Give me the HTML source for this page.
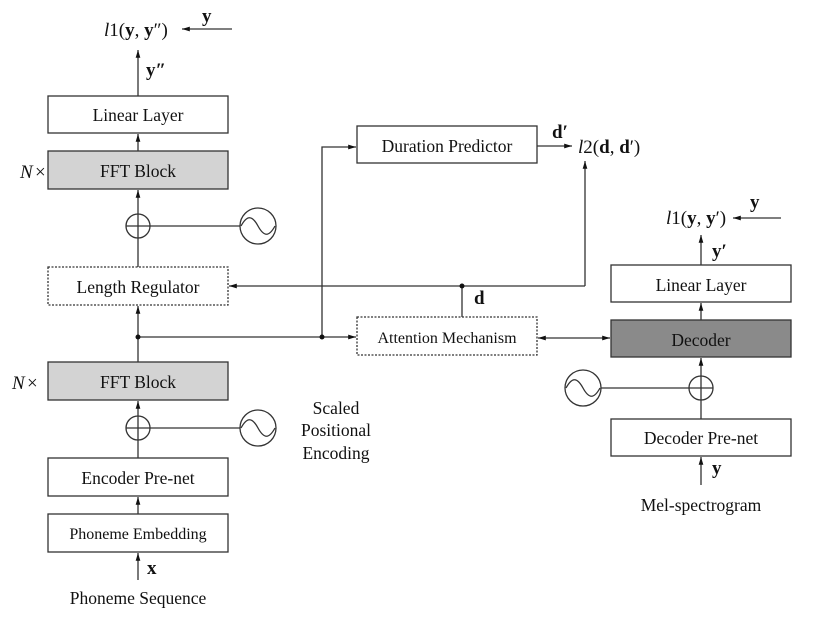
<!DOCTYPE html>
<html><head><style>
body{margin:0;background:#fff}
svg text{font-family:"Liberation Serif",serif;fill:#111}
</style></head><body>
<svg width="830" height="623" viewBox="0 0 830 623" xmlns="http://www.w3.org/2000/svg">
<defs>
<marker id="a" viewBox="0 0 10 10" refX="10" refY="5" markerWidth="6" markerHeight="6" orient="auto-start-reverse"><path d="M0,2 L10,5 L0,8z" fill="#111"/></marker>
</defs>
<g stroke="#333" stroke-width="1.3" fill="none">
<rect x="48" y="96" width="180" height="37" fill="#fff"/>
<rect x="48" y="151" width="180" height="38" fill="#d3d3d3"/>
<rect x="48" y="267" width="180" height="38" fill="#fff" stroke-dasharray="2,1.5"/>
<rect x="48" y="362" width="180" height="38" fill="#d3d3d3"/>
<rect x="48" y="458" width="180" height="38" fill="#fff"/>
<rect x="48" y="514" width="180" height="38" fill="#fff"/>
<rect x="357" y="126" width="180" height="37" fill="#fff"/>
<rect x="357" y="317" width="180" height="38" fill="#fff" stroke-dasharray="2,1.5"/>
<rect x="611" y="265" width="180" height="37" fill="#fff"/>
<rect x="611" y="320" width="180" height="37" fill="#8a8a8a"/>
<rect x="611" y="419" width="180" height="37" fill="#fff"/>
<line x1="138" y1="580" x2="138" y2="553" marker-end="url(#a)"/>
<line x1="138" y1="514" x2="138" y2="497" marker-end="url(#a)"/>
<line x1="138" y1="458" x2="138" y2="417" marker-end="url(#a)"/>
<line x1="138" y1="416" x2="138" y2="401" marker-end="url(#a)"/>
<line x1="138" y1="362" x2="138" y2="306" marker-end="url(#a)"/>
<line x1="138" y1="267" x2="138" y2="215" marker-end="url(#a)"/>
<line x1="138" y1="214" x2="138" y2="190" marker-end="url(#a)"/>
<line x1="138" y1="151" x2="138" y2="134" marker-end="url(#a)"/>
<line x1="138" y1="96" x2="138" y2="50" marker-end="url(#a)"/>
<line x1="232" y1="29" x2="182" y2="29" marker-end="url(#a)"/>
<circle cx="138" cy="226" r="12" fill="#fff"/>
<line x1="126" y1="226" x2="240" y2="226"/><line x1="138" y1="214" x2="138" y2="238"/>
<circle cx="258" cy="226" r="18" fill="#fff"/>
<path d="M241,226 C247,215 252,215 258,226 C264,237 269,237 275,226"/>
<circle cx="138" cy="428" r="12" fill="#fff"/>
<line x1="126" y1="428" x2="240" y2="428"/><line x1="138" y1="416" x2="138" y2="440"/>
<circle cx="258" cy="428" r="18" fill="#fff"/>
<path d="M241,428 C247,417 252,417 258,428 C264,439 269,439 275,428"/>
<line x1="138" y1="337" x2="356" y2="337" marker-end="url(#a)"/>
<polyline points="322,337 322,147 356,147" marker-end="url(#a)"/>
<line x1="462" y1="317" x2="462" y2="286"/>
<line x1="585" y1="286" x2="229" y2="286" marker-end="url(#a)"/>
<line x1="585" y1="286" x2="585" y2="161" marker-end="url(#a)"/>
<line x1="537" y1="146" x2="572" y2="146" marker-end="url(#a)"/>
<line x1="538" y1="338" x2="610" y2="338" marker-start="url(#a)" marker-end="url(#a)"/>
<line x1="701" y1="485" x2="701" y2="457" marker-end="url(#a)"/>
<line x1="701" y1="419" x2="701" y2="377" marker-end="url(#a)"/>
<line x1="701" y1="376" x2="701" y2="358" marker-end="url(#a)"/>
<line x1="701" y1="320" x2="701" y2="303" marker-end="url(#a)"/>
<line x1="701" y1="265" x2="701" y2="235" marker-end="url(#a)"/>
<line x1="781" y1="218" x2="733" y2="218" marker-end="url(#a)"/>
<circle cx="701" cy="388" r="12" fill="#fff"/>
<line x1="601" y1="388" x2="713" y2="388"/><line x1="701" y1="376" x2="701" y2="400"/>
<circle cx="583" cy="388" r="18" fill="#fff"/>
<path d="M566,388 C572,377 577,377 583,388 C589,399 594,399 600,388"/>
</g>
<g fill="#111">
<circle cx="138" cy="337" r="2.5"/><circle cx="322" cy="337" r="2.5"/><circle cx="462" cy="286" r="2.5"/>
</g>
<g font-size="17.5" text-anchor="middle">
<text x="138" y="121">Linear Layer</text>
<text x="138" y="177">FFT Block</text>
<text x="138" y="293">Length Regulator</text>
<text x="138" y="388">FFT Block</text>
<text x="138" y="484">Encoder Pre-net</text>
<text x="138" y="539" font-size="16">Phoneme Embedding</text>
<text x="138" y="604">Phoneme Sequence</text>
<text x="447" y="152">Duration Predictor</text>
<text x="447" y="343" font-size="16">Attention Mechanism</text>
<text x="701" y="291">Linear Layer</text>
<text x="701" y="346">Decoder</text>
<text x="701" y="444">Decoder Pre-net</text>
<text x="701" y="511">Mel-spectrogram</text>
<text x="336" y="414">Scaled</text>
<text x="336" y="436">Positional</text>
<text x="336" y="459">Encoding</text>
</g>
<g font-size="19">
<text x="20" y="178" font-style="italic">N</text><text x="35" y="178">×</text>
<text x="12" y="389" font-style="italic">N</text><text x="27" y="389">×</text>
<text x="104" y="36"><tspan font-style="italic">l</tspan>1(<tspan font-weight="bold">y</tspan>, <tspan font-weight="bold">y</tspan>″)</text>
<text x="202" y="22" font-weight="bold">y</text>
<text x="146" y="76" font-weight="bold">y″</text>
<text x="147" y="574" font-weight="bold">x</text>
<text x="552" y="138" font-weight="bold">d′</text>
<text x="578" y="153"><tspan font-style="italic">l</tspan>2(<tspan font-weight="bold">d</tspan>, <tspan font-weight="bold">d</tspan>′)</text>
<text x="474" y="304" font-weight="bold">d</text>
<text x="666" y="224"><tspan font-style="italic">l</tspan>1(<tspan font-weight="bold">y</tspan>, <tspan font-weight="bold">y</tspan>′)</text>
<text x="750" y="208" font-weight="bold">y</text>
<text x="712" y="257" font-weight="bold">y′</text>
<text x="712" y="474" font-weight="bold">y</text>
</g>
</svg>
</body></html>
